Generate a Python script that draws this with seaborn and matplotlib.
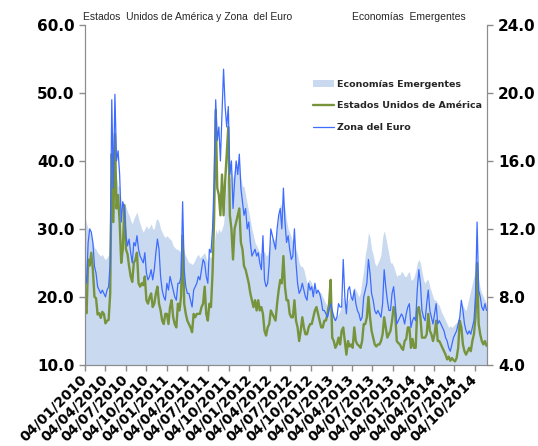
import pandas as pd
import matplotlib
matplotlib.use('Agg')
import matplotlib.pyplot as plt
from matplotlib.patches import Patch
from matplotlib.lines import Line2D
from matplotlib.ticker import FormatStrFormatter
import seaborn as sns

# Weekly readings (Monday of each week) from 04/01/2010 to 24/11/2014
# Estados Unidos de América (left axis)
eeuu = [
    18.5, 17.6, 25.5, 24.6, 26.5, 24.0, 20.0, 19.8, 17.4, 17.6, 16.9, 17.8, 17.5, 16.1, 16.5, 16.6, 20.5,
    41.0, 31.0, 44.0, 33.0, 35.0, 31.0, 25.0, 27.0, 33.5, 27.0, 26.3, 24.5, 23.0, 22.2, 25.0, 25.5, 26.5,
    22.0, 21.5, 22.0, 21.7, 23.0, 19.5, 19.0, 19.9, 20.5, 18.5, 19.0, 20.5, 21.5, 19.0, 18.0, 16.5, 16.0, 17.5,
    # 2011
    17.5, 16.0, 18.5, 19.5, 17.0, 16.0, 15.5, 19.0, 18.0, 20.0, 29.0, 19.0, 17.5, 16.5, 16.0, 15.5, 14.8,
    17.5, 17.0, 17.5, 17.5, 17.5, 18.5, 19.0, 21.5, 17.5, 16.5, 19.0, 18.5, 23.5, 31.5, 47.5, 36.0, 35.0,
    32.0, 38.0, 32.0, 37.0, 41.0, 45.0, 32.0, 30.0, 25.5, 30.0, 31.0, 32.0, 33.0, 28.0, 27.0, 24.5, 24.0, 23.0,
    # 2012
    22.0, 20.5, 19.5, 18.5, 19.5, 18.0, 19.5, 18.0, 18.5, 17.5, 15.0, 14.3, 15.5, 16.0, 18.0, 17.5, 17.0,
    16.5, 19.0, 21.0, 22.5, 22.0, 26.0, 21.5, 19.5, 19.5, 17.5, 17.0, 17.0, 19.5, 16.5, 15.5, 13.5, 15.0,
    17.0, 15.5, 14.5, 14.5, 15.5, 16.0, 16.0, 17.0, 18.0, 18.5, 17.5, 16.5, 15.5, 15.5, 16.5, 16.5, 17.5,
    19.0, 22.5,
    # 2013
    14.0, 13.5, 12.5, 13.0, 14.0, 13.0, 15.0, 15.5, 13.5, 11.5, 13.5, 12.7, 13.0, 12.5, 15.5, 13.5, 13.0,
    12.8, 12.5, 13.5, 16.0, 16.0, 17.0, 20.0, 17.0, 15.0, 14.0, 13.0, 12.7, 13.0, 13.0, 13.5, 14.5, 17.0,
    15.5, 14.0, 14.5, 15.0, 16.5, 18.5, 17.5, 13.5, 13.2, 13.0, 12.5, 12.2, 13.5, 13.8, 15.5, 15.5, 12.5, 13.8,
    # 2014
    12.5, 12.5, 18.0, 18.5, 17.0, 14.0, 14.0, 14.0, 14.5, 17.5, 15.0, 14.5, 13.5, 14.5, 16.5, 13.5, 13.5,
    13.0, 12.5, 12.0, 11.5, 10.8, 11.2, 10.6, 11.0, 10.7, 10.5, 11.0, 12.5, 16.5, 15.5, 13.0, 12.0, 11.5,
    12.0, 12.5, 12.0, 13.5, 14.5, 17.0, 25.0, 16.0, 14.5, 13.5, 13.0, 13.5, 12.8,
]

# Zona del Euro (left axis)
euro = [
    23.5, 22.0, 28.0, 30.0, 29.5, 28.0, 24.5, 23.5, 21.5, 21.0, 20.5, 21.0, 20.5, 20.0, 21.0, 21.5, 25.0,
    49.0, 36.0, 49.8, 40.0, 41.5, 38.0, 31.0, 34.0, 33.0, 29.0, 27.5, 28.5, 26.5, 25.0, 28.0, 27.5, 29.0,
    27.0, 26.0, 25.5, 25.0, 26.5, 23.5, 22.5, 23.0, 24.0, 22.5, 24.0, 26.5, 28.5, 27.0, 23.0, 21.0, 20.0, 19.5,
    # 2011
    22.0, 21.0, 23.0, 22.0, 21.0, 20.0, 19.5, 22.0, 22.0, 23.0, 34.0, 24.0, 21.5, 20.5, 20.5, 19.5, 18.5,
    21.0, 21.5, 22.0, 23.0, 22.5, 24.0, 25.5, 25.0, 23.0, 22.0, 27.0, 26.5, 30.0, 37.0, 49.0, 43.0, 45.0,
    40.0, 47.0, 53.5, 48.0, 45.0, 48.0, 38.0, 40.0, 33.0, 37.0, 40.0, 38.0, 41.0, 36.0, 34.0, 32.0, 33.0, 30.0,
    # 2012
    31.0, 28.0, 26.0, 26.5, 27.0, 26.0, 26.5, 25.0, 24.0, 29.0, 22.5, 21.5, 22.0, 25.0, 30.0, 29.0, 28.0,
    27.0, 30.0, 32.0, 33.0, 30.0, 36.0, 31.0, 28.0, 29.0, 27.0, 25.5, 26.0, 30.0, 25.0, 22.0, 20.5, 21.0,
    22.0, 21.0, 20.0, 19.5, 22.0, 21.0, 21.5, 20.0, 22.0, 20.5, 21.0, 20.5, 19.5, 18.0, 18.0, 17.5, 17.0,
    18.0, 19.0,
    # 2013
    18.0, 17.0, 16.5, 17.0, 19.0, 18.5, 18.5, 25.5, 20.0, 17.5, 21.0, 21.5, 20.0, 19.5, 21.0, 19.0, 18.0,
    17.5, 16.5, 17.0, 20.0, 21.0, 22.0, 25.5, 23.5, 20.5, 19.5, 18.0, 17.5, 18.0, 17.5, 17.0, 19.0, 24.0,
    21.5, 19.5, 18.0, 18.0, 20.5, 21.5, 19.0, 16.0, 16.5, 17.0, 17.5, 17.0, 16.0, 17.5, 18.5, 19.0, 15.5, 16.5,
    # 2014
    17.0, 16.5, 21.0, 24.0, 22.0, 18.0, 17.0, 16.5, 19.0, 21.0, 18.0, 17.0, 16.0, 17.5, 19.0, 16.0, 16.5,
    16.0, 15.5, 15.0, 14.0, 13.5, 12.5, 12.0, 13.0, 14.0, 14.5, 15.0, 16.0, 17.0, 19.5, 18.0, 16.0, 15.0,
    14.5, 15.0, 14.5, 15.5, 16.5, 20.0, 31.0, 21.0, 20.0, 18.5, 18.0, 19.0, 18.0,
]

# Economías Emergentes (right axis)
emergentes = [
    12.7, 12.3, 12.0, 11.8, 11.5, 11.2, 10.9, 10.8, 10.6, 10.5, 10.4, 10.5, 10.3, 10.2, 10.3, 10.5, 11.5,
    14.5, 14.0, 15.5, 15.0, 14.5, 14.5, 13.5, 13.0, 13.5, 13.3, 13.0, 12.8, 12.5, 12.3, 12.6, 12.8, 13.0,
    12.6, 12.3, 12.0, 11.8, 12.0, 12.2, 12.0, 12.1, 12.3, 12.0, 12.0, 12.5, 12.6, 12.4, 12.0, 11.8, 11.6, 11.5,
    # 2011
    11.6, 11.5, 11.4, 11.3, 11.0, 10.9, 10.8, 10.8, 10.7, 10.6, 11.2, 10.6, 10.4, 10.2, 10.0, 10.0, 9.9,
    10.0, 10.2, 10.4, 10.5, 10.3, 10.4, 10.5, 10.6, 10.3, 10.0, 10.4, 10.3, 10.5, 11.0, 12.0, 11.7, 12.0,
    11.8, 12.0, 12.3, 13.5, 15.0, 15.5, 15.0, 15.5, 15.0, 15.5, 15.5, 16.0, 16.0, 15.0, 14.5, 14.5, 14.0, 13.5,
    # 2012
    13.0, 12.5, 12.0, 11.6, 11.2, 11.0, 10.8, 10.6, 10.5, 10.5, 10.7, 10.4, 10.5, 10.9, 11.3, 11.5, 11.3,
    11.5, 12.0, 12.8, 13.5, 13.3, 13.7, 13.2, 12.5, 12.0, 11.8, 11.5, 11.2, 11.5, 10.8, 10.5, 10.0, 9.8,
    9.8, 9.6, 9.2, 8.8, 9.0, 9.0, 8.8, 8.5, 8.4, 8.4, 8.3, 8.3, 8.2, 8.0, 7.8, 7.6, 7.4,
    7.2, 7.3,
    # 2013
    7.2, 7.0, 6.8, 6.8, 7.0, 7.2, 7.5, 8.0, 7.8, 7.6, 7.8, 8.0, 8.0, 8.2, 8.6, 8.4, 8.2,
    8.0, 8.3, 9.0, 9.6, 10.5, 11.0, 11.8, 11.5, 10.8, 10.5, 10.0, 9.8, 10.0, 10.2, 10.5, 11.5, 11.9,
    11.5, 11.0, 10.5, 10.0, 10.0, 9.8, 9.5, 9.2, 9.3, 9.3, 9.5, 9.4, 9.2, 9.2, 9.4, 9.5, 9.0, 9.0,
    # 2014
    9.2, 9.5, 10.0, 10.2, 10.0, 9.5, 9.0, 8.8, 9.0, 9.0, 8.6, 8.3, 8.0, 7.8, 7.8, 7.6, 7.5,
    7.2, 7.0, 6.8, 6.6, 6.4, 6.2, 6.3, 6.2, 6.3, 6.4, 6.5, 6.6, 7.0, 7.4, 7.5, 7.3, 7.2,
    7.6, 8.0, 8.4, 8.8, 9.2, 9.5, 9.8, 9.0, 8.5, 8.2, 8.0, 7.8, 7.6,
]

left_ticks = [10, 20, 30, 40, 50, 60]
right_ticks = [4, 8, 12, 16, 20, 24]

fechas = pd.date_range('2010-01-04', periods=len(eeuu), freq='W-MON')
df = pd.DataFrame({'fecha': fechas, 'eeuu': eeuu, 'euro': euro, 'emergentes': emergentes})
tick_dates = pd.date_range('2010-01-04', periods=20, freq=pd.DateOffset(months=3))

c_area = '#C9DAF0'
c_us = '#77933C'
c_eu = '#3D6CFF'
c_axis = '#8C8C8C'

sns.set_style('ticks')
plt.rcParams['font.family'] = ['DejaVu Sans']

fig, ax = plt.subplots(figsize=(5.38, 4.46), dpi=100)
fig.subplots_adjust(left=0.158, right=0.906, top=0.944, bottom=0.182)

# area on the right axis, behind the lines
ax2 = ax.twinx()
ax2.fill_between(df['fecha'], df['emergentes'], 0, color=c_area, lw=0)
ax.set_zorder(ax2.get_zorder() + 1)
ax.patch.set_visible(False)

sns.lineplot(data=df, x='fecha', y='eeuu', ax=ax, color=c_us, lw=1.7)
sns.lineplot(data=df, x='fecha', y='euro', ax=ax, color=c_eu, lw=0.9)

ax.set_xlim(fechas[0], pd.Timestamp('2014-11-28'))
ax.set_ylim(10, 60)
ax2.set_ylim(4, 24)
ax.set_yticks(left_ticks)
ax2.set_yticks(right_ticks)
ax.yaxis.set_major_formatter(FormatStrFormatter('%.1f'))
ax2.yaxis.set_major_formatter(FormatStrFormatter('%.1f'))
ax.set_xlabel('')
ax.set_ylabel('')
ax2.set_ylabel('')

ax.set_xticks(tick_dates)
ax.set_xticklabels([d.strftime('%d/%m/%Y') for d in tick_dates], rotation=45,
                   ha='right', va='center', rotation_mode='anchor',
                   fontweight='bold', fontsize=10.1)

for a in (ax, ax2):
    a.spines['top'].set_visible(False)
    for s in ('left', 'right', 'bottom'):
        a.spines[s].set_color(c_axis)
    a.tick_params(color=c_axis, labelcolor='black', length=4, width=1)
    for lab in a.get_yticklabels():
        lab.set_fontweight('bold')
        lab.set_fontsize(11)
ax.tick_params(axis='x', pad=5)

fig.text(83 / 538, 1 - 17 / 446, 'Estados  Unidos de América y Zona  del Euro',
         fontsize=7.5, family='Liberation Sans', va='center', ha='left')
fig.text(466 / 538, 1 - 17 / 446, 'Economías  Emergentes',
         fontsize=7.5, family='Liberation Sans', va='center', ha='right')

handles = [Patch(facecolor=c_area, edgecolor='none'),
           Line2D([], [], color=c_us, lw=1.7),
           Line2D([], [], color=c_eu, lw=0.9)]
labels = ['Economías Emergentes', 'Estados Unidos de América', 'Zona del Euro']
ax.legend(handles, labels, loc='upper left', bbox_to_anchor=(308 / 538, 1 - 75 / 446),
          bbox_transform=fig.transFigure, frameon=False,
          prop={'weight': 'bold', 'size': 6.8}, handlelength=2.3,
          handleheight=0.8, labelspacing=1.35, handletextpad=0.3, borderpad=0)

fig.savefig('out.png', dpi=100)
plt.close()
